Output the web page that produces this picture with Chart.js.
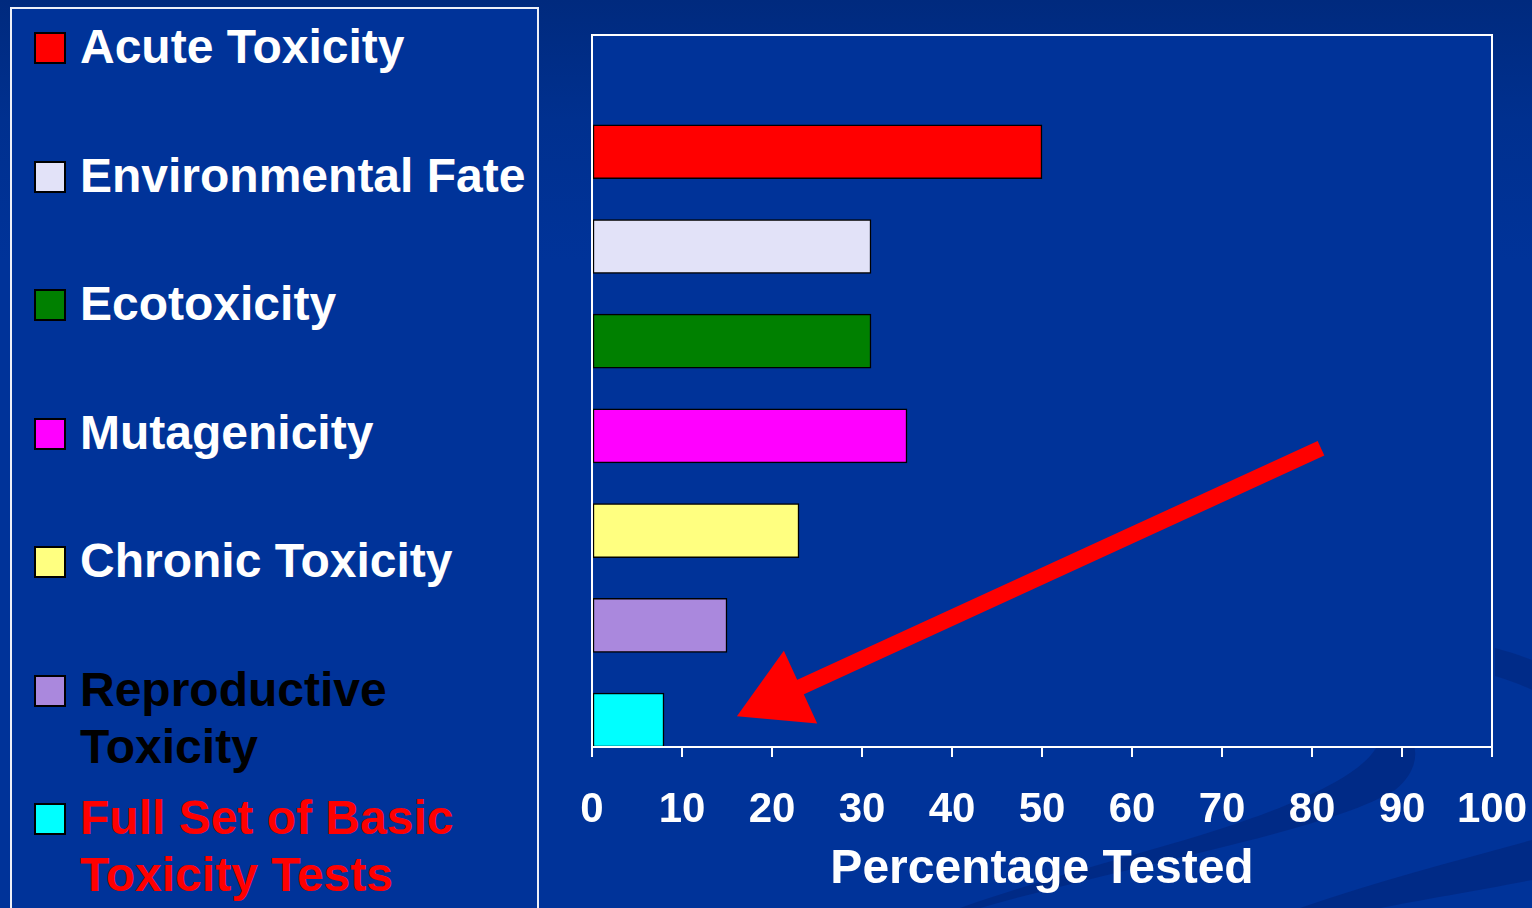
<!DOCTYPE html>
<html>
<head>
<meta charset="utf-8">
<script src="https://cdn.jsdelivr.net/npm/chart.js@4.4.1/dist/chart.umd.min.js"></script>
<style>
  html, body { margin: 0; padding: 0; }
  body {
    width: 1532px; height: 908px; overflow: hidden; position: relative;
    background: linear-gradient(180deg, #002a7e 0px, #00308f 120px, #003399 260px);
    font-family: "Liberation Sans", Arial, sans-serif;
  }
  #swoosh { position: absolute; left: 0; top: 0; }
  #chart { position: absolute; left: 0; top: 0; }
  #legend {
    position: absolute; left: 10px; top: 7px; width: 529px; height: 960px;
    border: 2px solid #eef0f8; background: #003399; box-sizing: border-box;
  }
  .item { position: absolute; left: 0; height: 128px; }
  .swatch {
    position: absolute; left: 22px; width: 28px; height: 28px;
    border: 2px solid #000;
  }
  .label {
    position: absolute; left: 68px; width: 458px;
    font-weight: bold; font-size: 48px; line-height: 57px; white-space: normal;
  }
</style>
</head>
<body>
<svg id="swoosh" width="1532" height="908">
  <path d="M 980 908 C 1150 860, 1330 830, 1395 790 C 1420 770, 1420 745, 1405 730 L 1380 730 C 1385 760, 1330 800, 1150 850 C 1080 870, 1010 890, 960 908 Z" fill="rgba(0,25,100,0.35)"/>
  <path d="M 1300 908 C 1380 880, 1460 860, 1532 840 L 1532 880 C 1480 890, 1420 900, 1380 908 Z" fill="rgba(0,25,100,0.35)"/>
  <path d="M 1495 648 C 1510 652, 1522 656, 1532 660 L 1532 690 C 1520 684, 1508 680, 1495 676 Z" fill="rgba(0,25,100,0.3)"/>
</svg>
<canvas id="chart" width="1532" height="908"></canvas>
<div id="legend"></div>
<script>
// Data
var categories = ['Acute Toxicity', 'Environmental Fate', 'Ecotoxicity', 'Mutagenicity',
                  'Chronic Toxicity', 'Reproductive Toxicity', 'Full Set of Basic Toxicity Tests'];
var percentTested = [50, 31, 31, 35, 23, 15, 8];
var barColors = ['#ff0000', '#e2e2f8', '#008000', '#ff00ff', '#ffff80', '#aa88dd', '#00ffff'];
var labelColors = ['#ffffff', '#ffffff', '#ffffff', '#ffffff', '#ffffff', '#000000', '#ff0000'];

// Arrow annotation, in data units (x = percent, y = row position)
var arrowFrom = { x: 81, y: 3.87 };
var arrowTo = { x: 16.1, y: 1.04 };

var fontFamily = '"Liberation Sans", Arial, sans-serif';

// Build the legend from the arrays
var legendEl = document.getElementById('legend');
categories.forEach(function(name, i) {
    var item = document.createElement('div');
    item.className = 'item';
    item.style.top = (9 + 128.5 * i) + 'px';
    var sw = document.createElement('div');
    sw.className = 'swatch';
    sw.style.top = '14px';
    sw.style.background = barColors[i];
    var lab = document.createElement('div');
    lab.className = 'label';
    lab.style.top = '0px';
    lab.style.color = labelColors[i];
    lab.textContent = name;
    item.appendChild(sw);
    item.appendChild(lab);
    legendEl.appendChild(item);
});

// Plot frame: fill and white border round the chart area
var framePlugin = {
    id: 'frame',
    beforeDatasetsDraw: function(chart) {
        var a = chart.chartArea, ctx = chart.ctx;
        ctx.save();
        ctx.fillStyle = '#003399';
        ctx.fillRect(a.left, a.top, a.right - a.left, a.bottom - a.top);
        ctx.restore();
    },
    afterDatasetsDraw: function(chart) {
        var a = chart.chartArea, ctx = chart.ctx;
        ctx.save();
        ctx.strokeStyle = '#ffffff';
        ctx.lineWidth = 2;
        ctx.strokeRect(a.left, a.top, a.right - a.left, a.bottom - a.top);
        ctx.restore();
    }
};

// Red arrow pointing at the last bar
var arrowPlugin = {
    id: 'arrow',
    afterDraw: function(chart) {
        var xs = chart.scales.x, ys = chart.scales.y, ctx = chart.ctx;
        var x1 = xs.getPixelForValue(arrowFrom.x), y1 = ys.getPixelForValue(arrowFrom.y);
        var x2 = xs.getPixelForValue(arrowTo.x), y2 = ys.getPixelForValue(arrowTo.y);
        var dx = x2 - x1, dy = y2 - y1, len = Math.sqrt(dx * dx + dy * dy);
        var ux = dx / len, uy = dy / len, nx = -uy, ny = ux;
        var headLen = 70, headHalf = 40;
        var bx = x2 - ux * headLen, by = y2 - uy * headLen;
        ctx.save();
        ctx.strokeStyle = '#ff0000';
        ctx.fillStyle = '#ff0000';
        ctx.lineWidth = 16;
        ctx.beginPath();
        ctx.moveTo(x1, y1);
        ctx.lineTo(bx + ux * 4, by + uy * 4);
        ctx.stroke();
        ctx.beginPath();
        ctx.moveTo(x2, y2);
        ctx.lineTo(bx + nx * headHalf, by + ny * headHalf);
        ctx.lineTo(bx - nx * headHalf, by - ny * headHalf);
        ctx.closePath();
        ctx.fill();
        ctx.restore();
    }
};

new Chart(document.getElementById('chart').getContext('2d'), {
    type: 'bar',
    data: {
        datasets: [{
            data: percentTested.map(function(v, i) {
                return { x: v, y: categories.length - i };
            }),
            backgroundColor: barColors,
            borderColor: '#000000',
            borderWidth: 1.5,
            borderSkipped: false,
            barThickness: 54
        }]
    },
    options: {
        indexAxis: 'y',
        responsive: false,
        animation: false,
        layout: { padding: { left: 592, top: 35, right: 40, bottom: 0 } },
        plugins: { legend: { display: false }, tooltip: { enabled: false } },
        scales: {
            x: {
                type: 'linear',
                min: 0,
                max: 100,
                ticks: {
                    stepSize: 10,
                    color: '#ffffff',
                    padding: 28,
                    maxRotation: 0,
                    font: { family: fontFamily, size: 42, weight: 'bold' }
                },
                grid: { drawOnChartArea: false, color: '#ffffff', lineWidth: 2, tickLength: 10 },
                border: { color: '#ffffff', width: 2 },
                title: {
                    display: true,
                    text: 'Percentage Tested',
                    color: '#ffffff',
                    font: { family: fontFamily, size: 48, weight: 'bold' },
                    padding: { top: 0, bottom: 9 }
                },
                afterFit: function(scale) {
                    scale.height = 161;
                    // the layout padding already leaves room for the end labels
                    scale.paddingLeft = 0;
                    scale.paddingRight = 0;
                }
            },
            y: {
                type: 'linear',
                display: false,
                offset: false,
                min: 0.715,
                max: 8.233
            }
        }
    },
    plugins: [framePlugin, arrowPlugin]
});
</script>
</body>
</html>
